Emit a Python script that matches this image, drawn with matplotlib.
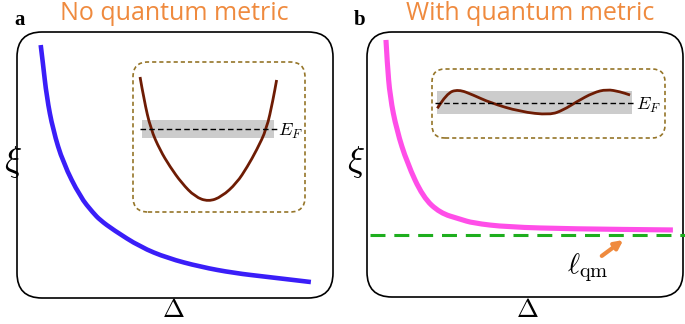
import matplotlib.pyplot as plt
from matplotlib.patches import FancyBboxPatch, PathPatch
from matplotlib.path import Path

plt.rcParams['mathtext.fontset'] = 'cm'

W, H = 685, 324

# panel a: correlation length vs gap, no quantum metric (arb. units 0-10)
delta_a = [0.75, 0.82, 0.94, 1.14, 1.46, 2.00, 2.41, 2.63, 3.05, 3.90, 4.76, 5.81, 6.86, 7.94, 9.30]
xi_a = [9.51, 8.83, 7.56, 6.32, 5.08, 3.80, 3.20, 2.93, 2.56, 1.92, 1.50, 1.17, 0.94, 0.79, 0.60]

# panel b: with quantum metric, saturates at l_qm
delta_b = [0.60, 0.64, 0.73, 0.94, 1.27, 1.77, 2.31, 2.94, 3.35, 4.43, 6.52, 9.68]
xi_b = [9.70, 8.83, 7.55, 6.30, 5.06, 3.77, 3.17, 2.94, 2.79, 2.64, 2.57, 2.53]
l_qm = 2.34

# inset a: parabolic band
k_a = [0.41, 0.64, 1.03, 1.57, 2.15, 2.83, 3.60, 4.38, 5.16, 6.03, 6.65, 7.19, 7.77, 8.14, 8.35]
e_a = [9.00, 7.47, 5.53, 4.13, 3.02, 1.93, 1.02, 0.69, 1.02, 1.93, 3.02, 4.13, 5.53, 7.47, 8.80]
band_a = (0.52, 8.20, 4.93, 6.13)
ef_a = 5.53

# inset b: flat band
k_b = [0.23, 0.63, 1.13, 1.77, 2.49, 3.78, 5.06, 5.64, 6.21, 6.92, 7.50, 8.07, 8.50]
e_b = [4.30, 6.48, 7.06, 6.23, 5.12, 3.81, 3.33, 4.06, 5.26, 6.57, 7.06, 6.71, 6.23]
band_b = (0.21, 8.58, 3.48, 6.81)
ef_b = 5.07

ORANGE = '#ef8a3e'
BROWN = '#6e1c04'
OLIVE = '#957529'

fig = plt.figure(figsize=(W / 100, H / 100), dpi=100)


def px_axes(x0, y0, x1, y1):
    ax = fig.add_axes([x0 / W, 1 - y1 / H, (x1 - x0) / W, (y1 - y0) / H])
    ax.set_xlim(0, 10)
    ax.set_ylim(0, 10)
    ax.axis('off')
    return ax


def rounded_box(ax, r, **kw):
    bb = ax.get_position()
    wpx, hpx = bb.width * W, bb.height * H
    p = FancyBboxPatch((0, 0), 10, 10,
                       boxstyle='round,pad=0,rounding_size=%f' % (r / wpx * 10),
                       mutation_aspect=wpx / hpx, fill=False, clip_on=False, **kw)
    ax.add_patch(p)


def smooth_curve(ax, xs, ys, **kw):
    # quadratic bezier through midpoints, points act as control points
    pts = list(zip(xs, ys))
    verts = [pts[0]]
    codes = [Path.MOVETO]
    for i in range(1, len(pts) - 1):
        mid = ((pts[i][0] + pts[i + 1][0]) / 2, (pts[i][1] + pts[i + 1][1]) / 2)
        verts += [pts[i], mid]
        codes += [Path.CURVE3, Path.CURVE3]
    verts.append(pts[-1])
    codes.append(Path.LINETO)
    ax.add_patch(PathPatch(Path(verts, codes), fill=False, **kw))


def fx(x, y):
    return x / W, 1 - y / H


# ---- panel a
axa = px_axes(17, 32, 333, 298)
rounded_box(axa, 25, ec='black', lw=1.2)
smooth_curve(axa, delta_a, xi_a, ec='#3a1ef8', lw=3.3, capstyle='butt')

ina = px_axes(133, 62, 305, 212)
rounded_box(ina, 15, ec=OLIVE, lw=1.2, ls=(0, (2.5, 1.8)))
ina.fill_between(band_a[:2], band_a[2], band_a[3], color='#cccccc', lw=0)
ina.plot([0.41, 8.35], [ef_a, ef_a], color='black', lw=1.0, ls=(0, (4, 2.3)))
smooth_curve(ina, k_a, e_a, ec=BROWN, lw=2.0)
ina.text(8.43, ef_a - 0.15, r'$E_F$', fontsize=13, ha='left', va='center')

# ---- panel b
axb = px_axes(367, 32, 683, 297)
rounded_box(axb, 25, ec='black', lw=1.2)
axb.plot([0.09, 10.06], [l_qm, l_qm], color='#1eae1e', lw=2.2,
         ls=(0, (4.9, 2.9)), clip_on=False)
smooth_curve(axb, delta_b, xi_b, ec='#ff4ee8', lw=3.7, capstyle='butt')
axb.annotate('', xy=(8.11, 2.15), xytext=(7.43, 1.55),
             arrowprops=dict(arrowstyle='-|>', color=ORANGE, lw=3,
                             mutation_scale=12, shrinkA=0, shrinkB=0))
axb.text(6.99, 1.09, r'$\ell_{\mathrm{qm}}$', fontsize=21, ha='center', va='center')

inb = px_axes(432, 69, 665, 138)
rounded_box(inb, 13, ec=OLIVE, lw=1.2, ls=(0, (2.5, 1.8)))
inb.fill_between(band_b[:2], band_b[2], band_b[3], color='#cccccc', lw=0)
inb.plot([0.15, 8.75], [ef_b, ef_b], color='black', lw=1.0, ls=(0, (4, 2.3)))
smooth_curve(inb, k_b, e_b, ec=BROWN, lw=2.0)
inb.text(8.76, ef_b - 0.4, r'$E_F$', fontsize=13, ha='left', va='center')

# ---- labels
fig.text(*fx(174, 14), 'No quantum metric', color=ORANGE, fontsize=18,
         family='Open Sans', ha='center', va='center')
fig.text(*fx(530, 14), 'With quantum metric', color=ORANGE, fontsize=18,
         family='Open Sans', ha='center', va='center')
fig.text(*fx(20, 20), 'a', fontsize=15, weight='bold', family='Liberation Serif',
         ha='center', va='center')
fig.text(*fx(360, 20), 'b', fontsize=15, weight='bold', family='Liberation Serif',
         ha='center', va='center')
fig.text(*fx(13, 162), r'$\xi$', fontsize=26, ha='center', va='center')
fig.text(*fx(356, 162), r'$\xi$', fontsize=26, ha='center', va='center')
fig.text(*fx(173, 310), r'$\Delta$', fontsize=19, ha='center', va='center')
fig.text(*fx(527, 310), r'$\Delta$', fontsize=19, ha='center', va='center')

fig.savefig('out.png', dpi=100)
